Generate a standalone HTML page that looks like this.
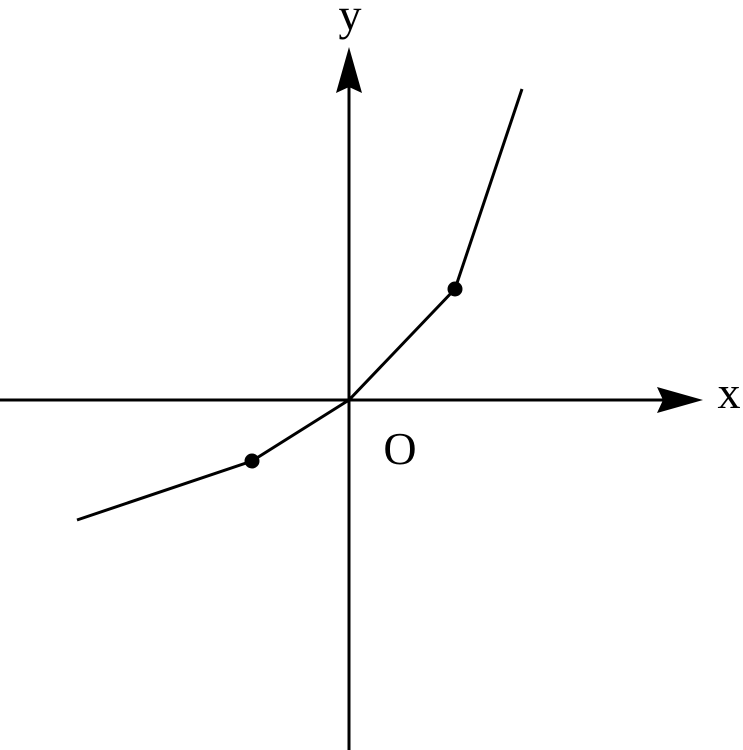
<!DOCTYPE html>
<html><head><style>body{margin:0;background:#fff}svg{display:block}</style></head><body>
<svg width="743" height="750" viewBox="0 0 743 750" xmlns="http://www.w3.org/2000/svg">
<g stroke="#000" stroke-width="3" fill="none">
<line x1="0" y1="400" x2="670" y2="400"/>
<line x1="349" y1="750" x2="349" y2="80"/>
<polyline points="77,520 252,461 349,400 455,289 522,89"/>
</g>
<path d="M349,47 L362,93 L349,87 L336,93 Z" fill="#000"/>
<path d="M703,400 L657,387 L663,400 L657,413 Z" fill="#000"/>
<circle cx="252" cy="461" r="7.5" fill="#000"/>
<circle cx="455" cy="289" r="7.5" fill="#000"/>
<g font-family="Liberation Serif, serif" font-size="46" fill="#000">
<text x="350" y="30" text-anchor="middle">y</text>
<text x="729" y="408" text-anchor="middle">x</text>
<text x="400" y="464" text-anchor="middle">O</text>
</g>
</svg>
</body></html>
